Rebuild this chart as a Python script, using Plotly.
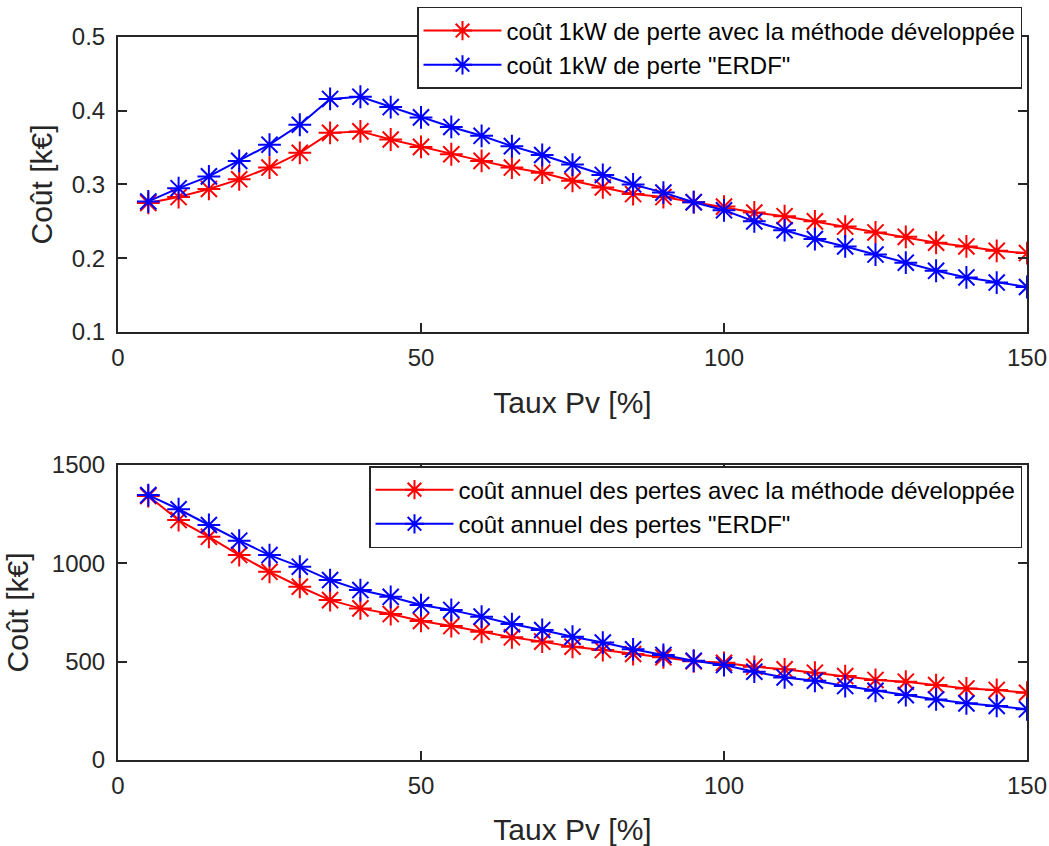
import plotly.graph_objects as go

taux = [5, 10, 15, 20, 25, 30, 35, 40, 45, 50, 55, 60, 65, 70, 75, 80, 85, 90, 95, 100,
        105, 110, 115, 120, 125, 130, 135, 140, 145, 150]

cout_kw_dev = [0.275, 0.283, 0.294, 0.307, 0.323, 0.343, 0.370, 0.372, 0.361, 0.351,
               0.341, 0.332, 0.323, 0.316, 0.305, 0.296, 0.287, 0.283, 0.276, 0.270,
               0.262, 0.257, 0.250, 0.243, 0.235, 0.229, 0.221, 0.216, 0.210, 0.207]
cout_kw_erdf = [0.277, 0.295, 0.311, 0.332, 0.354, 0.381, 0.416, 0.419, 0.405, 0.391,
                0.378, 0.366, 0.352, 0.340, 0.327, 0.313, 0.300, 0.289, 0.276, 0.265,
                0.250, 0.238, 0.226, 0.216, 0.205, 0.194, 0.183, 0.174, 0.167, 0.161]

cout_an_dev = [1342, 1220, 1135, 1042, 957, 881, 813, 771, 742, 707,
               681, 652, 624, 602, 576, 559, 539, 522, 502, 494,
               474, 461, 444, 427, 407, 398, 381, 364, 356, 342]
cout_an_erdf = [1347, 1275, 1195, 1115, 1042, 983, 915, 864, 830, 788,
                763, 729, 691, 661, 627, 597, 563, 534, 505, 483,
                449, 420, 403, 376, 352, 330, 308, 288, 275, 258]

names_top = ["coût 1kW de perte avec la méthode développée", "coût 1kW de perte \"ERDF\""]
names_bot = ["coût annuel des pertes avec la méthode développée", "coût annuel des pertes \"ERDF\""]
x_ticks = [0, 50, 100, 150]
y_ticks_top = [0.1, 0.2, 0.3, 0.4, 0.5]
y_ticks_bot = [0, 500, 1000, 1500]

RED = "#FF0000"
BLUE = "#0000FF"
AX = "#262626"
FONT = "Liberation Sans, Arial, sans-serif"

fig = go.Figure()

def add(x, y, name, color, xa, ya, leg):
    fig.add_trace(go.Scatter(
        x=x, y=y, name=name, mode="lines+markers",
        line=dict(color=color, width=2),
        marker=dict(symbol="asterisk-open", size=19, color=color,
                    line=dict(color=color, width=2)),
        xaxis=xa, yaxis=ya, legend=leg))

add(taux, cout_kw_dev, names_top[0], RED, "x", "y", "legend")
add(taux, cout_kw_erdf, names_top[1], BLUE, "x", "y", "legend")
add(taux, cout_an_dev, names_bot[0], RED, "x2", "y2", "legend2")
add(taux, cout_an_erdf, names_bot[1], BLUE, "x2", "y2", "legend2")

axis_common = dict(
    showline=True, linecolor=AX, linewidth=2, mirror="ticks",
    ticks="inside", ticklen=9, tickwidth=1.5, tickcolor=AX,
    showgrid=False, zeroline=False, automargin=False,
    tickfont=dict(family=FONT, size=24, color=AX),
)
title_font = dict(family=FONT, size=30, color=AX)

fig.update_layout(
    width=1049, height=846,
    paper_bgcolor="white", plot_bgcolor="white",
    margin=dict(l=118, r=22, t=37, b=86, autoexpand=False),
    showlegend=True,
    xaxis=dict(domain=[0, 1], anchor="y", range=[0, 150], tickvals=x_ticks,
               ticklabelstandoff=3,
               title=dict(text="Taux Pv [%]", font=title_font, standoff=22),
               **axis_common),
    yaxis=dict(domain=[0.592, 1], anchor="x", range=[0.1, 0.5], tickvals=y_ticks_top,
               tickformat=".1f", ticklabelstandoff=6,
               title=dict(text="Coût [k€]", font=title_font, standoff=10),
               **axis_common),
    xaxis2=dict(domain=[0, 1], anchor="y2", range=[0, 150], tickvals=x_ticks,
                ticklabelstandoff=3,
                title=dict(text="Taux Pv [%]", font=title_font, standoff=22),
                **axis_common),
    yaxis2=dict(domain=[0, 0.408], anchor="x2", range=[0, 1500], tickvals=y_ticks_bot,
                ticklabelstandoff=6,
                title=dict(text="Coût [k€]", font=title_font, standoff=14),
                **axis_common),
    legend=dict(x=0.9945, y=1.0415, xanchor="right", yanchor="top",
                bgcolor="white", bordercolor=AX, borderwidth=1.5,
                font=dict(family=FONT, size=24, color="black"),
                itemwidth=78, tracegroupgap=0),
    legend2=dict(x=0.9945, y=0.4066, xanchor="right", yanchor="top",
                 bgcolor="white", bordercolor=AX, borderwidth=1.5,
                 font=dict(family=FONT, size=24, color="black"),
                 itemwidth=78, tracegroupgap=0),
)

fig.write_html(
    "out.html",
    config={"displayModeBar": False},
    post_script="document.body.style.margin='0';document.body.style.overflow='hidden';",
)
